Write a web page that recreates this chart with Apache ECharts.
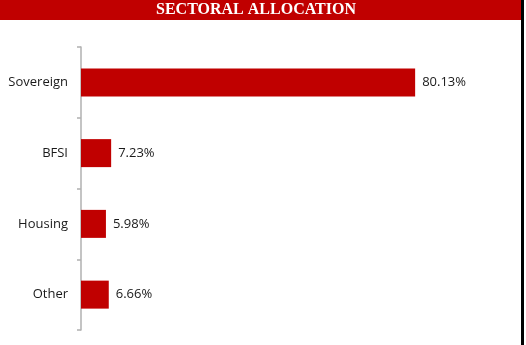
<!DOCTYPE html>
<html>
<head>
<meta charset="utf-8">
<script src="https://cdn.jsdelivr.net/npm/echarts@6/dist/echarts.min.js"></script>
<style>html,body{margin:0;padding:0;background:#fff;}#c{width:526px;height:345px;}</style>
</head>
<body>
<div id="c"></div>
<script>
const titleText = 'SECTORAL ALLOCATION';
const categories = ['Sovereign', 'BFSI', 'Housing', 'Other'];
const values = [80.13, 7.23, 5.98, 6.66];

const chart = echarts.init(document.getElementById('c'), null, {renderer: 'canvas'});
chart.setOption({
  animation: false,
  backgroundColor: '#ffffff',
  graphic: [
    {type: 'rect', left: 0, top: 0, shape: {width: 521, height: 20}, style: {fill: '#c00000'}, z: 0},
    {type: 'rect', left: 521, top: 0, shape: {width: 3, height: 345}, style: {fill: '#000000'}, z: 0},
    {type: 'text', x: 256, y: 10, style: {text: titleText, fill: '#ffffff', align: 'center', verticalAlign: 'middle', font: 'bold 16px "Liberation Serif", "Times New Roman", serif'}, z: 5}
  ],
  grid: {left: 81, right: 28, top: 47, bottom: 15, containLabel: false},
  xAxis: {
    type: 'value', min: 0, max: 100, show: false
  },
  yAxis: {
    type: 'category', data: categories, inverse: true,
    axisLine: {show: true, lineStyle: {color: '#b0b0b0', width: 1.5}},
    axisTick: {show: true, length: 4, lineStyle: {color: '#b0b0b0', width: 1.5}},
    axisLabel: {color: '#1a1a1a', fontSize: 13, fontFamily: '"Open Sans", "Noto Sans", sans-serif', margin: 13},
    splitLine: {show: false}
  },
  series: [{
    type: 'bar', data: values, barWidth: 28,
    itemStyle: {color: '#c00000'},
    label: {show: true, position: 'right', distance: 7, color: '#1a1a1a', fontSize: 13,
      fontFamily: '"Open Sans", "Noto Sans", sans-serif',
      formatter: p => p.value.toFixed(2) + '%'}
  }]
});
</script>
</body>
</html>
